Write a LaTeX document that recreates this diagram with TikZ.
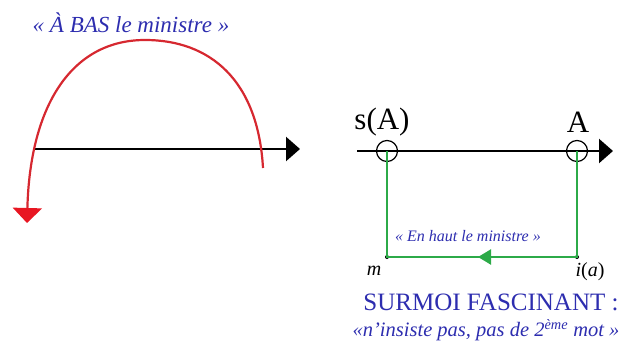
\documentclass[tikz,border=0pt]{standalone}
\usepackage{fontspec}
\setmainfont{Liberation Serif}
\usetikzlibrary{arrows.meta}
\definecolor{txtblue}{RGB}{45,45,175}
\definecolor{arcred}{RGB}{214,40,48}
\definecolor{tipred}{RGB}{232,22,34}
\definecolor{lgreen}{RGB}{44,170,72}
\tikzset{
  axis/.style={line width=2.4pt,-{Triangle[length=14pt,width=24pt]}},
  label/.style={inner sep=0pt,text=txtblue,font=\itshape},
  ring/.style={circle,draw,line width=1.2pt,minimum size=21pt,inner sep=0pt},
  dot/.style={circle,fill=black,inner sep=0pt,minimum size=4pt},
  gline/.style={draw=lgreen,line width=2.3pt},
}
\begin{document}
\begin{tikzpicture}[x=1pt,y=-1pt]
\useasboundingbox (0,0) rectangle (629,356);
% left part
\coordinate (l0) at (33,149);
\coordinate (l1) at (300,149);
\draw[axis] (l0) -- (l1);
\coordinate (r0) at (263,168);
\coordinate (rtop) at (145,40);
\coordinate (rend) at (27,223);
\draw[draw=arcred,line width=2.2pt,-{Triangle[length=15pt,width=29pt,color=tipred]}]
  (r0) .. controls (258,80) and (210,40) .. (rtop)
       .. controls (72,40) and (30,105) .. (rend);
\node[label,font=\itshape\fontsize{23}{26}\selectfont] (t1) at (131,23) {« À BAS le ministre »};
% right part
\coordinate (a0) at (357,151);
\coordinate (a1) at (613,151);
\draw[axis] (a0) -- (a1);
\node[ring] (sA) at (387,151) {};
\node[ring] (A) at (577,151) {};
\node[inner sep=0pt,font=\fontsize{31}{34}\selectfont] (lsA) at (382,122) {s(A)};
\node[inner sep=0pt,font=\fontsize{31}{34}\selectfont] (lA) at (578,122) {A};
\node[dot] (m) at (387,257) {};
\node[dot] (ia) at (577,257) {};
\coordinate (gt) at (478,257);
\draw[gline] (sA.center) -- (m.center) -- (ia.center) -- (A.center);
\draw[gline,-{Triangle[length=13pt,width=15pt]}] (ia.center) -- (gt);
\node[inner sep=0pt,font=\itshape\fontsize{20}{22}\selectfont] (lm) at (374,271) {m};
\node[inner sep=0pt,font=\fontsize{20}{22}\selectfont] (lia) at (590,272) {\textit{i}(\textit{a})};
\node[label,font=\itshape\fontsize{16}{19}\selectfont] (t2) at (468,236) {« En haut le ministre »};
\node[inner sep=0pt,text=txtblue,font=\fontsize{25}{28}\selectfont] (t3) at (491,302) {SURMOI FASCINANT :};
\node[label,font=\itshape\fontsize{20.5}{24}\selectfont] (t4) at (486,330) {«n’insiste pas, pas de 2\textsuperscript{ème} mot »};
\end{tikzpicture}
\end{document}
